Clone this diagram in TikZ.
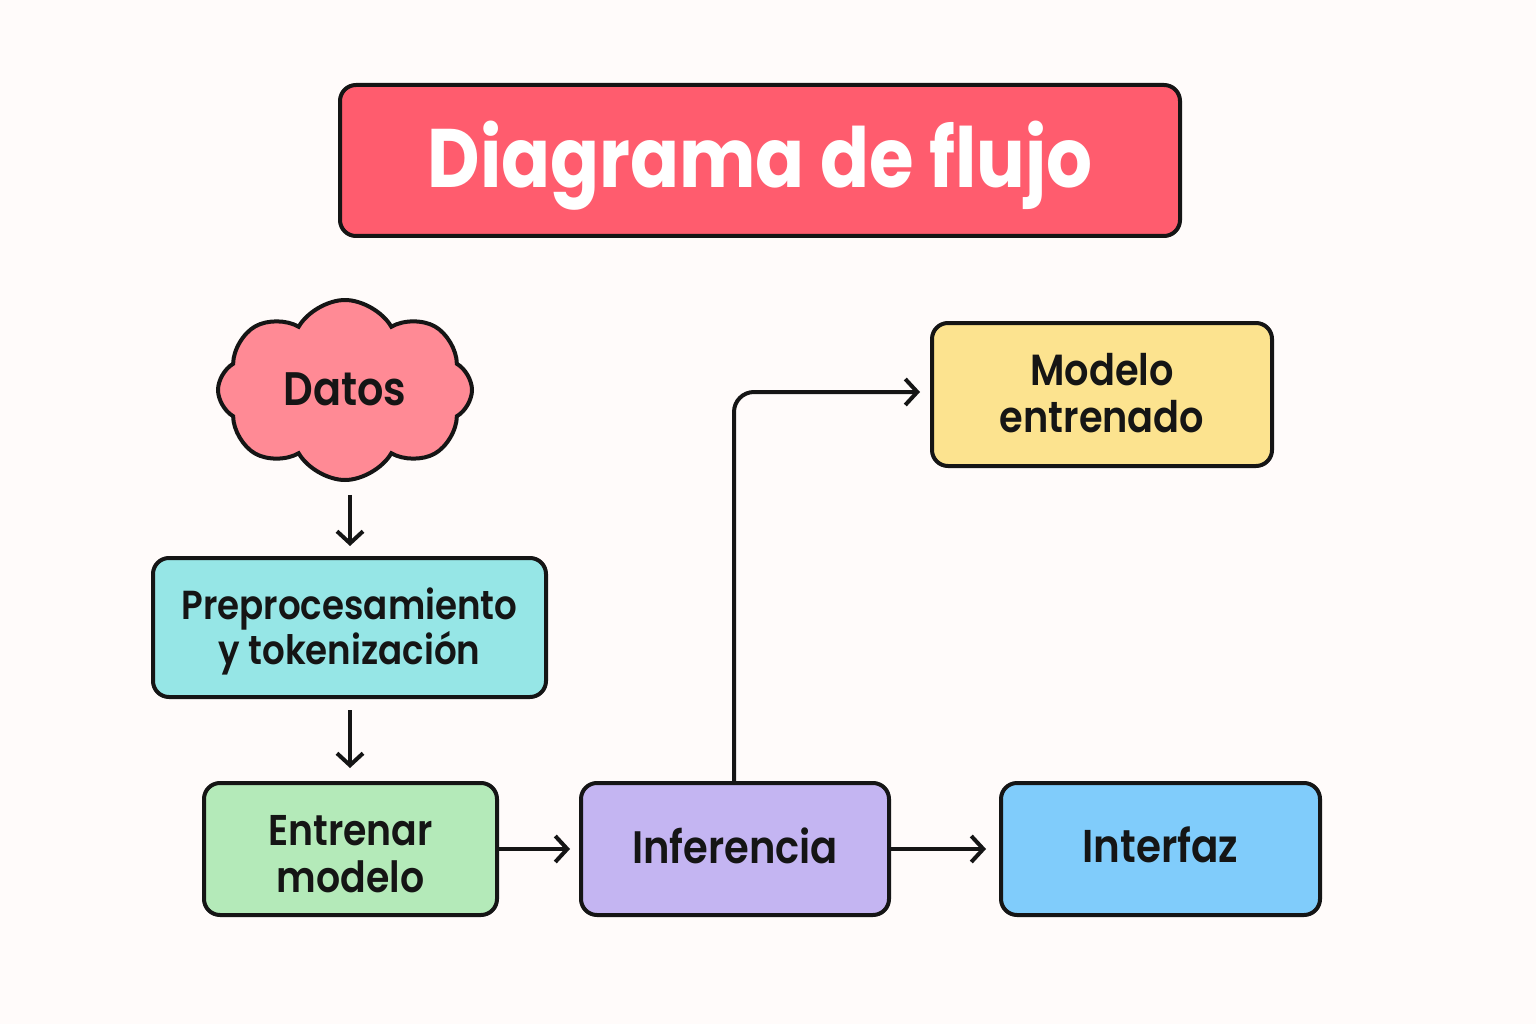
\documentclass[tikz,border=0pt]{standalone}
\usepackage{fontspec}
\IfFontExistsTF{Poppins SemiBold}{\setmainfont{Poppins}[BoldFont={Poppins SemiBold},BoldFeatures={FakeStretch=0.88}]}{\setmainfont{Poppins}}
\IfFontExistsTF{Poppins Bold}{\newfontfamily\titlefont{Poppins Bold}[FakeStretch=0.87]}{\newfontfamily\titlefont{Poppins}}
\usetikzlibrary{arrows.meta,shapes.symbols,calc}
\definecolor{bg}{HTML}{FFFBFA}
\definecolor{titlec}{HTML}{FF5C6E}
\definecolor{cloudc}{HTML}{FF8A95}
\definecolor{preproc}{HTML}{96E6E6}
\definecolor{entrc}{HTML}{B4EAB9}
\definecolor{infc}{HTML}{C4B5F2}
\definecolor{intc}{HTML}{80CCFB}
\definecolor{modc}{HTML}{FCE38F}
\definecolor{ink}{HTML}{151515}
% one line: baseline placed #1 below the node centre
\newcommand{\oneline}[2]{\raisebox{-#1}[0pt][0pt]{#2}}
% two lines: first baseline placed #1 below the node centre
\newcommand{\twolines}[3]{\raisebox{-#1}[0pt][0pt]{\begin{tabular}[t]{@{}c@{}}#2\\#3\end{tabular}}}
\begin{document}
\begin{tikzpicture}[x=1pt,y=-1pt,
  boxstyle/.style={draw=ink,line width=4pt,rounded corners=16pt,inner sep=0pt,align=center,text=ink},
  arr/.style={draw=ink,line width=4pt,-{Straight Barb[length=12pt,width=26pt,line width=4pt]}}]
\fill[bg] (0,0) rectangle (1536,1024);
\useasboundingbox (0,0) rectangle (1536,1024);
\node[boxstyle,fill=titlec,minimum width=840pt,minimum height=151pt,text=white,
  font=\fontsize{83}{90}\selectfont\titlefont] (title) at (760,160.5) {\oneline{27.5pt}{Diagrama de flujo}};
\node[cloud,cloud puffs=8,cloud puff arc=120,aspect=1.45,draw=ink,line width=4pt,fill=cloudc,
  minimum width=254pt,minimum height=180pt,inner sep=0pt,text=ink,
  font=\fontsize{47}{50}\selectfont\bfseries] (datos) at (345,390) {\oneline{15pt}{Datos}};
\node[boxstyle,fill=preproc,minimum width=393pt,minimum height=139pt,
  font=\fontsize{40.5}{42}\selectfont\bfseries] (prepro) at (349.5,627.5)
  {\twolines{-8.5pt}{Preprocesamiento}{y tokenización}};
\node[boxstyle,fill=entrc,minimum width=293pt,minimum height=132pt,
  font=\fontsize{43}{47}\selectfont\bfseries] (entr) at (350.5,849)
  {\twolines{-4pt}{Entrenar}{modelo}};
\node[boxstyle,fill=infc,minimum width=308pt,minimum height=132pt,
  font=\fontsize{45.5}{50}\selectfont\bfseries] (inf) at (735,849)
  {\oneline{14pt}{Inferencia}};
\node[boxstyle,fill=intc,minimum width=319pt,minimum height=132pt,
  font=\fontsize{46}{50}\selectfont\bfseries] (intf) at (1160.5,849)
  {\oneline{13pt}{Interfaz}};
\node[boxstyle,fill=modc,minimum width=340pt,minimum height=143pt,
  font=\fontsize{43.5}{47}\selectfont\bfseries] (mod) at (1102,394.5)
  {\twolines{-9.5pt}{Modelo}{entrenado}};
\draw[arr] ($(datos.south)+(5,13)$) -- ($(prepro.north)+(0.5,-10)$);
\draw[arr] ($(prepro.south)+(0.5,11)$) -- ($(entr.north)+(-0.5,-13)$);
\draw[arr] (entr.east) -- ($(inf.west)+(-9,0)$);
\draw[arr] (inf.east) -- ($(intf.west)+(-13,0)$);
\draw[arr,rounded corners=20pt] ($(inf.north)+(-1,0)$) |- ($(mod.west)+(-10,-2.5)$);
\end{tikzpicture}
\end{document}
